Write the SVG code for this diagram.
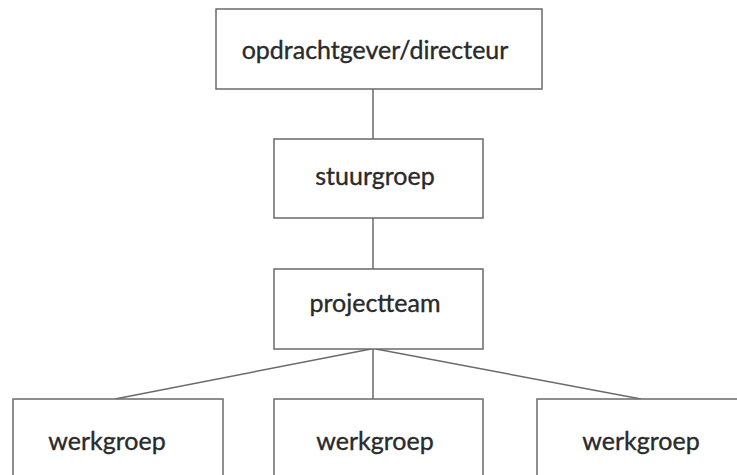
<svg xmlns="http://www.w3.org/2000/svg" width="737" height="475" viewBox="0 0 737 475">
  <style>
    .box { fill: #ffffff; stroke: #6a6a6a; stroke-width: 1.5; }
    .label { font-family: Lato, "Open Sans", "DejaVu Sans", sans-serif; font-size: 25px; fill: #2a2a2a; stroke: #2a2a2a; stroke-width: 0.35; text-anchor: middle; }
    .link { stroke: #6a6a6a; stroke-width: 1.5; fill: none; }
  </style>
  <rect width="737" height="475" fill="#ffffff"/>
  <g id="connectors">
    <line class="link" x1="373" y1="89" x2="373" y2="139"/>
    <line class="link" x1="373" y1="218" x2="373" y2="269"/>
    <line class="link" x1="373" y1="349" x2="373" y2="399"/>
    <line class="link" x1="371" y1="349" x2="115" y2="399"/>
    <line class="link" x1="376" y1="349" x2="641" y2="399"/>
  </g>
  <g id="opdrachtgever">
    <rect class="box" x="216" y="9" width="326" height="80"/>
    <text class="label" x="375" y="59">opdrachtgever/directeur</text>
  </g>
  <g id="stuurgroep">
    <rect class="box" x="274" y="139" width="209" height="79"/>
    <text class="label" x="375" y="185">stuurgroep</text>
  </g>
  <g id="projectteam">
    <rect class="box" x="274" y="269" width="209" height="80"/>
    <text class="label" x="375" y="312">projectteam</text>
  </g>
  <g id="werkgroep-1">
    <rect class="box" x="13" y="399" width="210" height="90"/>
    <text class="label" x="107" y="450">werkgroep</text>
  </g>
  <g id="werkgroep-2">
    <rect class="box" x="274" y="399" width="209" height="90"/>
    <text class="label" x="375" y="450">werkgroep</text>
  </g>
  <g id="werkgroep-3">
    <rect class="box" x="537" y="399" width="210" height="90"/>
    <text class="label" x="641" y="450">werkgroep</text>
  </g>
</svg>
